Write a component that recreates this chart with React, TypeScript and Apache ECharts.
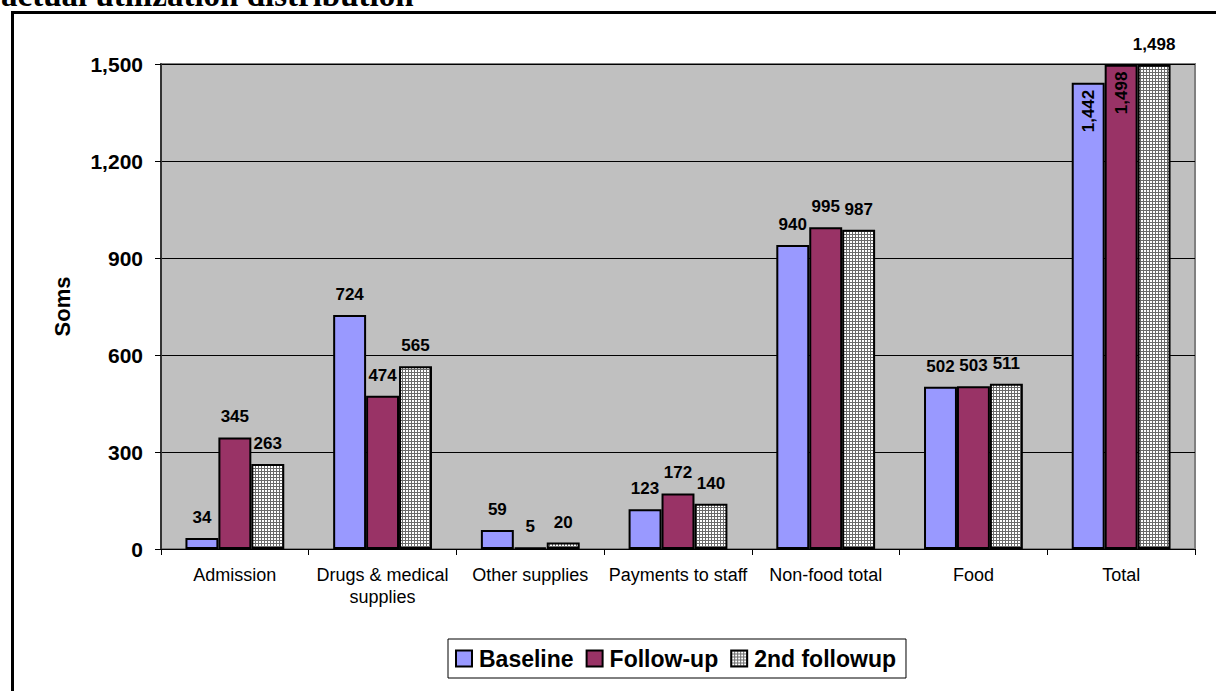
import React, { useEffect, useRef } from "react";
import * as echarts from "echarts";

const categories = [
  "Admission",
  "Drugs & medical supplies",
  "Other supplies",
  "Payments to staff",
  "Non-food total",
  "Food",
  "Total",
];
const baseline = [34, 724, 59, 123, 940, 502, 1442];
const followUp = [345, 474, 5, 172, 995, 503, 1498];
const secondFollowup = [263, 565, 20, 140, 987, 511, 1498];
const seriesNames = ["Baseline", "Follow-up", "2nd followup"];
const yTicks = { min: 0, max: 1500, interval: 300 };
const titleText = "actual utilization distribution";

function makePattern(): string {
  const c = document.createElement("canvas");
  c.width = 3;
  c.height = 3;
  const ctx = c.getContext("2d")!;
  ctx.fillStyle = "#ffffff";
  ctx.fillRect(0, 0, 3, 3);
  ctx.fillStyle = "#6a6a6a";
  ctx.fillRect(0, 0, 3, 1);
  ctx.fillRect(0, 0, 1, 3);
  return c.toDataURL();
}

const fmt = (v: number) => v.toLocaleString("en-US");

export default function App() {
  const ref = useRef<HTMLDivElement>(null);
  useEffect(() => {
    if (!ref.current) return;
    const chart = echarts.init(ref.current, undefined, { renderer: "svg" });
    const pattern = makePattern();
    const labelBase = {
      show: true,
      position: "top" as const,
      distance: 12,
      fontFamily: "Arial, Liberation Sans",
      fontWeight: "bold" as const,
      fontSize: 17,
      color: "#000",
      formatter: (p: any) => fmt(p.value),
    };
    const insideRot = {
      position: "insideTop",
      rotate: 90,
      align: "right",
      verticalAlign: "middle",
      distance: 7,
    };
    const lastIdx = categories.length - 1;
    const mk = (arr: number[], rotLast: boolean) =>
      arr.map((v, i) =>
        rotLast && i === lastIdx ? { value: v, label: insideRot } : { value: v }
      );
    const itemBorder = { borderColor: "#000", borderWidth: 2 };
    chart.setOption({
      animation: false,
      backgroundColor: "#ffffff",
      textStyle: { fontFamily: "Arial, Liberation Sans" },
      grid: {
        left: 161,
        top: 64,
        right: 21,
        bottom: 142,
        show: true,
        backgroundColor: "#C0C0C0",
        borderColor: "#808080",
        borderWidth: 2,
      },
      legend: {
        left: 448,
        top: 639,
        data: seriesNames,
        icon: "rect",
        itemWidth: 16,
        itemHeight: 16,
        itemGap: 12,
        padding: [8, 10, 8, 7],
        borderColor: "#000",
        borderWidth: 1,
        backgroundColor: "#fff",
        textStyle: {
          fontFamily: "Arial, Liberation Sans",
          fontWeight: "bold",
          fontSize: 23,
          color: "#000",
          padding: [0, 0, 0, 2],
        },
      },
      graphic: [
        {
          type: "text",
          left: 1,
          top: -22,
          style: {
            text: titleText,
            font: "bold 33px 'Liberation Serif', 'Times New Roman', serif",
            fill: "#000",
          },
        },
        {
          type: "rect",
          shape: { x: 12.5, y: 12.5, width: 1400, height: 900 },
          style: { fill: "none", stroke: "#000", lineWidth: 3 },
          silent: true,
        },
      ],
      xAxis: {
        type: "category",
        data: categories,
        axisLine: { show: true, lineStyle: { color: "#000", width: 1 } },
        axisTick: { show: true, length: 6, lineStyle: { color: "#000" } },
        axisLabel: {
          margin: 15,
          fontSize: 18,
          color: "#000",
          lineHeight: 22,
          fontFamily: "Arial, Liberation Sans",
          interval: 0,
          formatter: (v: string) =>
            v === "Drugs & medical supplies" ? "Drugs & medical\nsupplies" : v,
        },
      },
      yAxis: {
        type: "value",
        min: yTicks.min,
        max: yTicks.max,
        interval: yTicks.interval,
        name: "Soms",
        nameLocation: "middle",
        nameGap: 88,
        nameRotate: 90,
        nameTextStyle: {
          fontFamily: "Arial, Liberation Sans",
          fontWeight: "bold",
          fontSize: 22,
          color: "#000",
        },
        axisLine: { show: true, lineStyle: { color: "#333", width: 2 } },
        axisTick: { show: true, length: 6, lineStyle: { color: "#000" } },
        splitLine: { show: true, lineStyle: { color: "#000", width: 1 } },
        axisLabel: {
          margin: 18,
          fontSize: 21,
          fontWeight: "bold",
          color: "#000",
          fontFamily: "Arial, Liberation Sans",
          formatter: (v: number) => fmt(v),
        },
      },
      series: [
        {
          name: seriesNames[0],
          type: "bar",
          data: mk(baseline, true),
          barWidth: "22.3%",
          barGap: "0%",
          itemStyle: { color: "#9999FF", ...itemBorder },
          label: labelBase,
        },
        {
          name: seriesNames[1],
          type: "bar",
          data: mk(followUp, true),
          barWidth: "22.3%",
          barGap: "0%",
          itemStyle: { color: "#993366", ...itemBorder },
          label: labelBase,
        },
        {
          name: seriesNames[2],
          type: "bar",
          data: mk(secondFollowup, false),
          barWidth: "22.3%",
          barGap: "0%",
          itemStyle: {
            color: { image: pattern, repeat: "repeat" },
            ...itemBorder,
          },
          label: labelBase,
        },
      ],
    });
    return () => chart.dispose();
  }, []);
  return (
    <div
      ref={ref}
      style={{ position: "fixed", left: 0, top: 0, width: 1216, height: 691 }}
    />
  );
}
